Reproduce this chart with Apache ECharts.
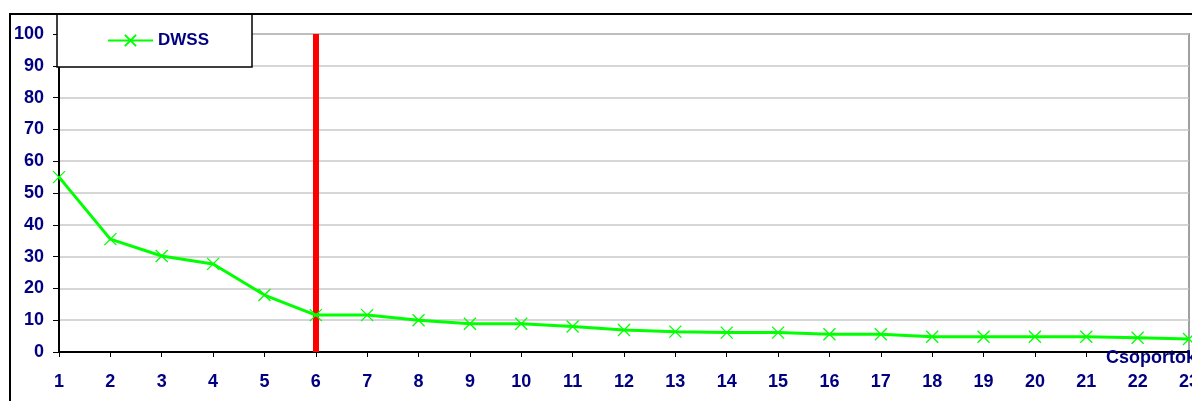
<!DOCTYPE html>
<html><head><meta charset="utf-8">
<script src="https://cdn.jsdelivr.net/npm/echarts@6/dist/echarts.min.js"></script>
<style>html,body{margin:0;padding:0;background:#fff;overflow:hidden}#c{width:1192px;height:401px}</style>
</head><body><div id="c"></div>
<script>
var categories = ['1','2','3','4','5','6','7','8','9','10','11','12','13','14','15','16','17','18','19','20','21','22','23'];
var dwss = [55, 35.5, 30.2, 27.7, 17.9, 11.6, 11.6, 10, 8.9, 8.9, 8, 6.9, 6.4, 6.1, 6.1, 5.6, 5.6, 4.8, 4.8, 4.8, 4.8, 4.5, 4.1];
var yTicks = {min: 0, max: 100, interval: 10};
var cutCategory = '6';
var xName = 'Csoportok';
var seriesName = 'DWSS';

var navy = '#000080';
var font = 'Liberation Sans';
var xSym = 'path://M0,0L10,10M10,0L0,10';
var chart = echarts.init(document.getElementById('c'));
chart.setOption({
  animation: false,
  backgroundColor: '#fff',
  grid: {left: 59, right: 3, top: 34, bottom: 49, containLabel: false, outerBoundsMode: 'none', show: true, borderColor: '#a0a0a0', borderWidth: 2},
  legend: {
    left: 57, top: 14,
    padding: [18, 43, 18, 50],
    backgroundColor: '#fff', borderColor: '#000', borderWidth: 1.5,
    itemWidth: 45, itemHeight: 14, itemGap: 6,
    textStyle: {color: navy, fontWeight: 'bold', fontSize: 17, fontFamily: font},
    data: [seriesName]
  },
  xAxis: {
    type: 'category', data: categories, boundaryGap: false,
    axisLine: {lineStyle: {color: '#000', width: 2}},
    axisTick: {alignWithLabel: true, length: 5, lineStyle: {color: '#000', width: 1}},
    axisLabel: {color: navy, fontWeight: 'bold', fontSize: 18, fontFamily: font, margin: 21, interval: 0},
    splitLine: {show: false}
  },
  yAxis: {
    type: 'value', min: yTicks.min, max: yTicks.max, interval: yTicks.interval,
    axisLine: {show: true, lineStyle: {color: '#000', width: 2}},
    axisTick: {show: true, length: 6, lineStyle: {color: '#000', width: 1}},
    axisLabel: {color: navy, fontWeight: 'bold', fontSize: 18, fontFamily: font, margin: 15},
    splitLine: {lineStyle: {color: '#c8c8c8', width: 1.5}}
  },
  graphic: [
    {type: 'rect', shape: {x: 10, y: 14, width: 1250, height: 450}, style: {fill: 'none', stroke: '#000', lineWidth: 2}, z: 100, silent: true},
    {type: 'text', left: 1106, top: 349, style: {text: xName, fill: navy, font: 'bold 18px "Liberation Sans"'}, z: 100}
  ],
  series: [{
    name: seriesName, type: 'line', data: dwss,
    symbol: xSym, symbolSize: 12, showSymbol: true,
    lineStyle: {color: '#00ff00', width: 3},
    itemStyle: {color: '#00ff00', borderColor: '#00ff00', borderWidth: 1.3},
    z: 3,
    markLine: {
      silent: true, symbol: 'none', z: 2,
      label: {show: false},
      lineStyle: {color: '#ff0000', width: 6, type: 'solid'},
      data: [{xAxis: cutCategory}]
    }
  }]
});
</script></body></html>
